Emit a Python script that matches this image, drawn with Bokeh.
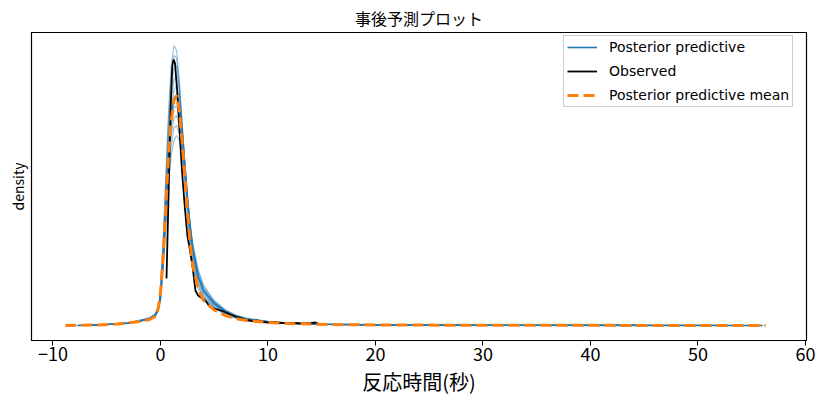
from bokeh.plotting import figure
from bokeh.models import Range1d, FixedTicker, Legend, LegendItem
from bokeh.embed import file_html
from bokeh.resources import INLINE

# ---------------- data ----------------
title_text = "事後予測プロット"
x_label = "反応時間(秒)"
y_label = "density"
x_ticks = [-10, 0, 10, 20, 30, 40, 50, 60]
x_tick_labels = ["−10", "0", "10", "20", "30", "40", "50", "60"]

# shared x-grid of the posterior predictive curves
pp_x = [-7.7, -5.0, -3.0, -2.0, -1.0, -0.5, -0.2, 0.0, 0.25, 0.5, 0.75, 1.0,
        1.25, 1.5, 1.75, 2.0, 2.25, 2.5, 2.75, 3.0, 3.5, 4.0, 5.0, 6.0, 7.0,
        8.0, 10.0, 12.0, 15.0, 20.0, 30.0, 45.0, 56.0]
pp_a = [0.0, 0.002, 0.005, 0.008, 0.013, 0.018, 0.03, 0.07, 0.17, 0.30, 0.43, 0.52,
        0.56, 0.55, 0.49, 0.40, 0.31, 0.22, 0.16, 0.12, 0.075, 0.055, 0.035, 0.022, 0.014,
        0.010, 0.006, 0.004, 0.002, 0.001, 0.0005, 0.0002, 0.0]
pp_b = [0.0, 0.002, 0.005, 0.009, 0.014, 0.020, 0.035, 0.065, 0.15, 0.27, 0.39, 0.47,
        0.515, 0.52, 0.48, 0.41, 0.33, 0.25, 0.18, 0.135, 0.085, 0.062, 0.038, 0.024, 0.016,
        0.011, 0.0065, 0.004, 0.0025, 0.0012, 0.0005, 0.0002, 0.0]
pp_c = [0.0, 0.002, 0.004, 0.008, 0.013, 0.019, 0.032, 0.06, 0.14, 0.25, 0.36, 0.43,
        0.47, 0.48, 0.455, 0.40, 0.33, 0.26, 0.195, 0.15, 0.095, 0.068, 0.042, 0.027, 0.018,
        0.012, 0.007, 0.0045, 0.0025, 0.0012, 0.0005, 0.0001, 0.0]
pp_d = [0.0, 0.002, 0.005, 0.009, 0.015, 0.021, 0.034, 0.055, 0.13, 0.23, 0.33, 0.40,
        0.435, 0.44, 0.42, 0.375, 0.315, 0.255, 0.20, 0.155, 0.10, 0.072, 0.045, 0.029, 0.019,
        0.013, 0.0075, 0.0048, 0.0028, 0.0014, 0.0006, 0.0002, 0.0]
pp_e = [0.0, 0.002, 0.005, 0.009, 0.015, 0.022, 0.036, 0.05, 0.12, 0.21, 0.30, 0.36,
        0.395, 0.40, 0.385, 0.35, 0.30, 0.25, 0.20, 0.16, 0.108, 0.078, 0.048, 0.031, 0.020,
        0.014, 0.008, 0.005, 0.003, 0.0015, 0.0006, 0.0002, 0.0]
pp_f = [0.0, 0.002, 0.005, 0.01, 0.016, 0.023, 0.037, 0.05, 0.11, 0.20, 0.285, 0.34,
        0.37, 0.38, 0.37, 0.34, 0.295, 0.25, 0.205, 0.165, 0.112, 0.081, 0.050, 0.032, 0.021,
        0.015, 0.0085, 0.0052, 0.003, 0.0015, 0.0006, 0.0002, 0.0]
pp_g = [0.0, 0.002, 0.004, 0.008, 0.013, 0.019, 0.032, 0.062, 0.145, 0.26, 0.375, 0.45,
        0.49, 0.50, 0.47, 0.405, 0.33, 0.255, 0.19, 0.142, 0.09, 0.065, 0.040, 0.025, 0.017,
        0.0115, 0.0068, 0.0042, 0.0025, 0.0012, 0.0005, 0.0001, 0.0]
pp_h = [0.0, 0.002, 0.005, 0.009, 0.014, 0.020, 0.033, 0.058, 0.135, 0.24, 0.345, 0.415,
        0.455, 0.46, 0.44, 0.39, 0.325, 0.26, 0.20, 0.152, 0.098, 0.070, 0.044, 0.028, 0.018,
        0.0125, 0.0072, 0.0046, 0.0026, 0.0013, 0.0005, 0.0002, 0.0]
pp_i = [0.0, 0.002, 0.004, 0.008, 0.012, 0.018, 0.03, 0.068, 0.16, 0.29, 0.41, 0.50,
        0.54, 0.535, 0.485, 0.40, 0.315, 0.23, 0.17, 0.125, 0.08, 0.058, 0.036, 0.023, 0.015,
        0.0105, 0.0062, 0.004, 0.0022, 0.0011, 0.0004, 0.0001, 0.0]
pp_j = [0.0, 0.002, 0.005, 0.01, 0.015, 0.022, 0.035, 0.052, 0.125, 0.22, 0.315, 0.38,
        0.415, 0.42, 0.40, 0.36, 0.305, 0.25, 0.20, 0.158, 0.104, 0.075, 0.047, 0.030, 0.020,
        0.0135, 0.0078, 0.0049, 0.0029, 0.0014, 0.0006, 0.0002, 0.0]
pp_curves = [pp_a, pp_b, pp_c, pp_d, pp_e, pp_f, pp_g, pp_i, pp_j]
pp_legend_curve = pp_h

# observed density
obs_x = [0.56, 0.75, 0.95, 1.1, 1.22, 1.35, 1.55, 1.8, 2.0, 2.25, 2.5, 2.75, 3.0,
         3.25, 3.5, 3.75, 4.0, 4.25, 4.6, 5.0, 5.6, 6.0, 6.5, 7.0, 7.5, 8.0, 8.5,
         9.0, 9.5, 10.0, 10.5, 11.0, 11.5, 12.0, 12.5, 13.0, 13.5, 14.0, 14.4, 14.7]
obs_y = [0.094, 0.26, 0.44, 0.52, 0.532, 0.525, 0.47, 0.38, 0.31, 0.24, 0.18, 0.15, 0.115,
         0.07, 0.06, 0.056, 0.053, 0.048, 0.037, 0.034, 0.030, 0.027, 0.022, 0.018, 0.015,
         0.011, 0.009, 0.010, 0.007, 0.006, 0.007, 0.005, 0.005, 0.004, 0.005, 0.004,
         0.004, 0.005, 0.006, 0.004]

# posterior predictive mean density
mean_x = [-8.85, -6.0, -4.0, -3.0, -2.0, -1.0, -0.5, -0.2, 0.0, 0.25, 0.5, 0.75, 1.0,
          1.25, 1.5, 1.75, 2.0, 2.25, 2.5, 2.75, 3.0, 3.5, 4.0, 5.0, 6.0, 7.0, 8.0,
          10.0, 12.0, 14.0, 16.0, 20.0, 30.0, 40.0, 56.3]
mean_y = [0.0, 0.001, 0.003, 0.005, 0.008, 0.012, 0.018, 0.035, 0.065, 0.14, 0.24, 0.34,
          0.41, 0.45, 0.46, 0.43, 0.37, 0.30, 0.23, 0.165, 0.12, 0.075, 0.05, 0.031, 0.02,
          0.014, 0.01, 0.006, 0.004, 0.003, 0.002, 0.001, 0.0005, 0.0003, 0.0]

# ---------------- figure ----------------
FONT = "Noto Sans CJK JP"
LEGEND_FONT = "DejaVu Sans"
BLUE = "#1f77b4"
ORANGE = "#ff7f0e"

p = figure(width=826, height=405, output_backend="svg", toolbar_location=None,
           x_range=Range1d(-12.0, 60.1), y_range=Range1d(-0.03, 0.586),
           min_border_left=31, min_border_right=20, min_border_top=32, min_border_bottom=65)

p.title.text = title_text
p.title.align = "center"
p.title.text_font = FONT
p.title.text_font_size = "16px"
p.title.text_font_style = "normal"
p.title.text_color = "black"
p.title.standoff = 5

p.grid.visible = False
p.outline_line_color = "black"
p.outline_line_width = 1.2
p.outline_line_alpha = 1.0
p.background_fill_color = "white"
p.border_fill_color = "white"

p.xaxis.ticker = FixedTicker(ticks=x_ticks)
p.xaxis.major_label_overrides = {t: l for t, l in zip(x_ticks, x_tick_labels)}
p.xaxis.major_label_text_font = FONT
p.xaxis.major_label_text_font_size = "18px"
p.xaxis.major_label_text_color = "black"
p.xaxis.major_tick_out = 5
p.xaxis.major_tick_in = 0
p.xaxis.minor_tick_out = 0
p.xaxis.minor_tick_in = 0
p.xaxis.major_label_standoff = 1
p.xaxis.axis_label = x_label
p.xaxis.axis_label_text_font = FONT
p.xaxis.axis_label_text_font_size = "20px"
p.xaxis.axis_label_text_font_style = "normal"
p.xaxis.axis_label_text_color = "black"
p.xaxis.axis_label_standoff = 3
p.xaxis.axis_line_color = "black"

p.yaxis.ticker = FixedTicker(ticks=[])
p.yaxis.major_tick_out = 0
p.yaxis.major_tick_in = 0
p.yaxis.minor_tick_out = 0
p.yaxis.minor_tick_in = 0
p.yaxis.major_label_text_font_size = "0px"
p.yaxis.axis_label = y_label
p.yaxis.axis_label_text_font = FONT
p.yaxis.axis_label_text_font_size = "14px"
p.yaxis.axis_label_text_font_style = "normal"
p.yaxis.axis_label_text_color = "black"
p.yaxis.axis_label_standoff = 4
p.yaxis.axis_line_color = "black"

for curve in pp_curves:
    p.line(pp_x, curve, line_color=BLUE, line_alpha=0.45, line_width=1.2)
r_pp = p.line(pp_x, pp_legend_curve, line_color=BLUE, line_alpha=1.0, line_width=1.6)

r_obs = p.line(obs_x, obs_y, line_color="black", line_width=1.8)
r_mean = p.line(mean_x, mean_y, line_color=ORANGE, line_width=3, line_dash="11 5")

legend = Legend(items=[LegendItem(label="Posterior predictive", renderers=[r_pp]),
                       LegendItem(label="Observed", renderers=[r_obs]),
                       LegendItem(label="Posterior predictive mean", renderers=[r_mean])],
                location=(532, 233), margin=0, padding=3, spacing=8,
                glyph_width=30, glyph_height=16, label_height=16, label_standoff=12,
                label_text_font=LEGEND_FONT, label_text_font_size="14px",
                label_text_color="black",
                border_line_color="#cccccc", border_line_alpha=1.0,
                background_fill_alpha=0.8)
p.add_layout(legend, "center")

open("out.html", "w").write(file_html(p, INLINE))
